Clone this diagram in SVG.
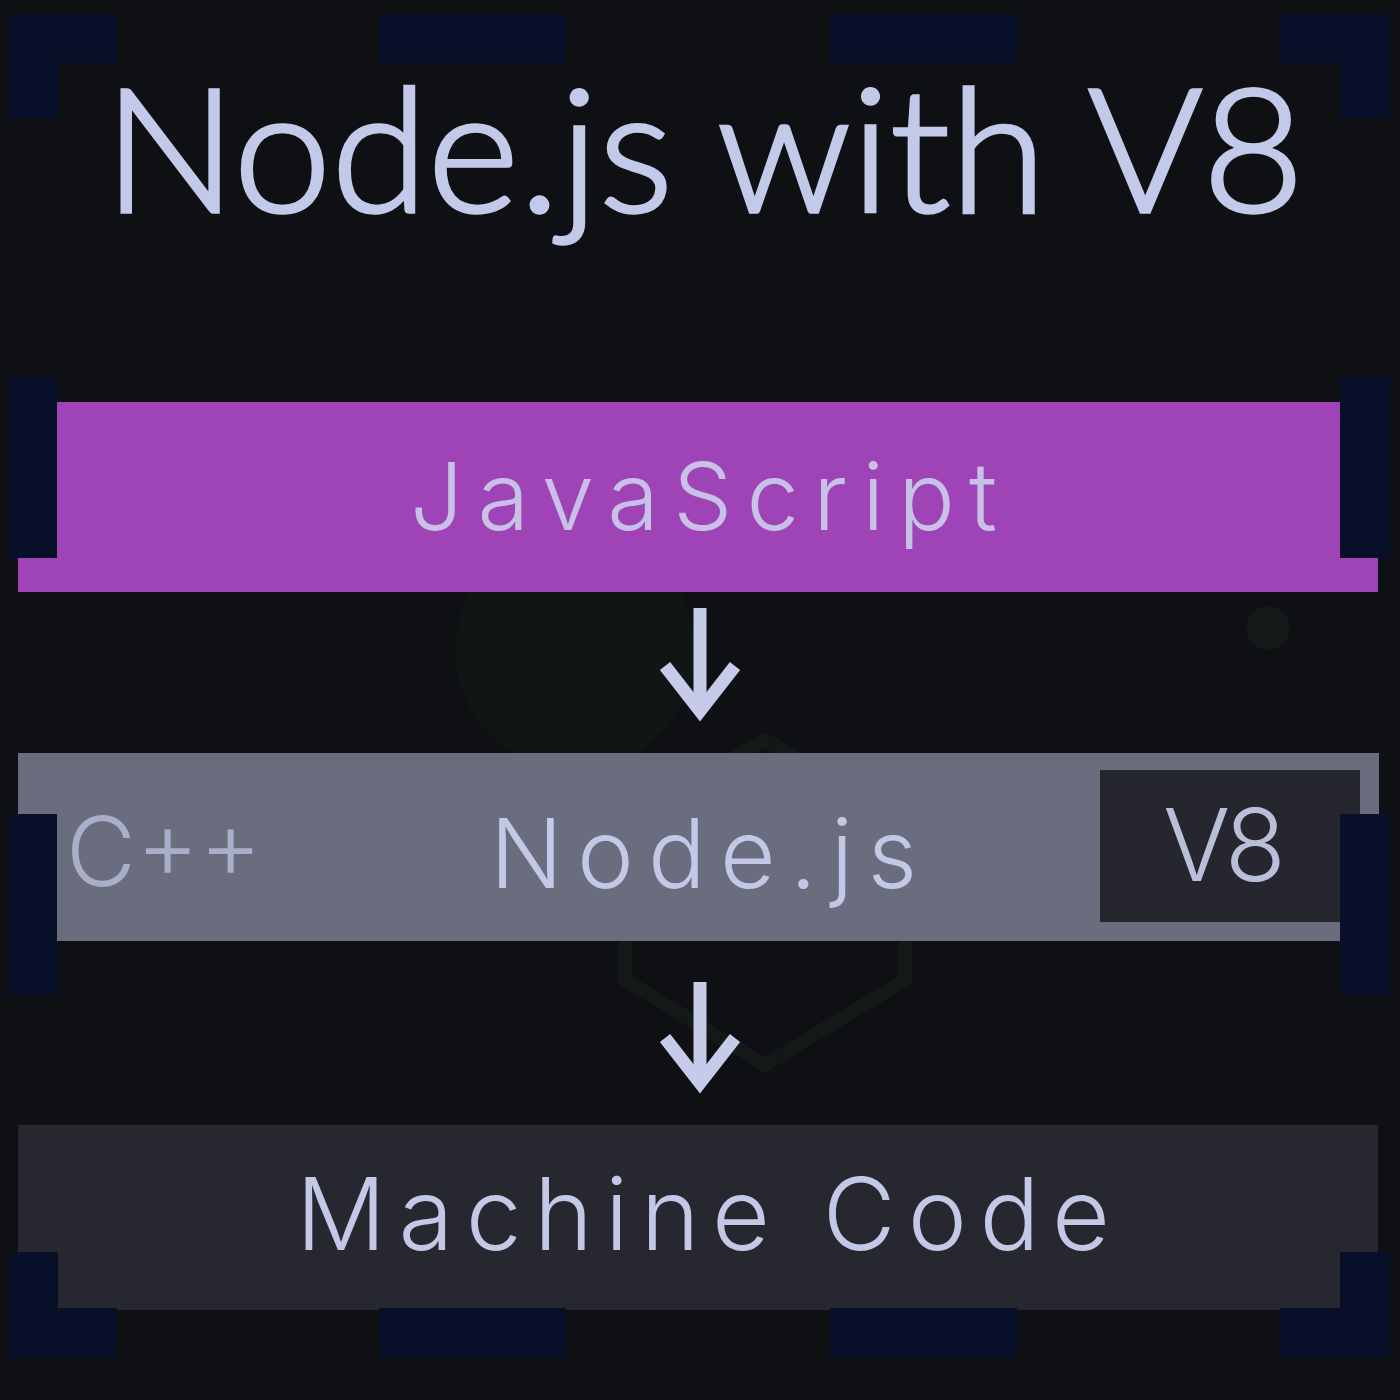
<svg xmlns="http://www.w3.org/2000/svg" width="1400" height="1400" viewBox="0 0 1400 1400">
  <defs>
    <style>
      .bracket { fill: #081029; }
      .label { font-family: Inter, "Noto Sans", "Liberation Sans", sans-serif; font-weight: 300; fill: #c3c8e6; }
      .title { font-family: Lato, "Noto Sans", "Liberation Sans", sans-serif; font-weight: 300; fill: #c3c9e8; stroke: #c3c9e8; stroke-width: 3.5; }
      .arrow { fill: none; stroke: #c5cbe8; stroke-width: 13; stroke-linejoin: miter; stroke-miterlimit: 4; }
      .deco { fill: none; stroke: #141918; stroke-width: 14; }
    </style>
  </defs>

  <!-- background -->
  <rect x="0" y="0" width="1400" height="1400" fill="#0f1013"/>
  <g id="background-decoration">
    <circle cx="575" cy="650" r="120" fill="#111514"/>
    <polygon class="deco" points="765,740 905,820 905,980 765,1065 625,980 625,820"/>
    <circle cx="1268" cy="628" r="22" fill="#151918"/>
  </g>

  <!-- title -->
  <g id="title">
    <text class="title" x="104" y="212" font-size="172" textLength="1200" lengthAdjust="spacingAndGlyphs">Node.js with V8</text>
  </g>

  <!-- nodes -->
  <g id="node-javascript">
    <rect x="18" y="402" width="1360" height="190" fill="#9e44b6"/>
    <text class="label" x="410" y="530" font-size="94" style="fill:#c9c0e8" textLength="587" lengthAdjust="spacing">JavaScript</text>
  </g>

  <g id="node-nodejs">
    <rect x="18" y="753" width="1361" height="188" fill="#696d7e"/>
    <rect x="1100" y="770" width="260" height="152" fill="#25262e"/>
    <text class="label" x="66" y="886" font-size="96" style="fill:#a9aec9" textLength="196" lengthAdjust="spacing">C++</text>
    <text class="label" x="490" y="888" font-size="96" textLength="427" lengthAdjust="spacing">Node.js</text>
    <text class="label" x="1163" y="881" font-size="100" style="fill:#b9bed9" textLength="123" lengthAdjust="spacing">V8</text>
  </g>

  <g id="node-machine-code">
    <rect x="18" y="1125" width="1360" height="185" fill="#27282f"/>
    <text class="label" x="296" y="1250" font-size="100" textLength="814" lengthAdjust="spacing">Machine Code</text>
  </g>

  <!-- connectors -->
  <g id="connectors">
    <g id="arrow-js-to-node">
      <line class="arrow" x1="700" y1="608" x2="700" y2="712"/>
      <polyline class="arrow" points="665,666 700,711 735,666"/>
    </g>
    <g id="arrow-node-to-machine" transform="translate(0,372)">
      <line class="arrow" x1="700" y1="610" x2="700" y2="712"/>
      <polyline class="arrow" points="665,666 700,711 735,666"/>
    </g>
  </g>

  <!-- corner brackets frame -->
  <g id="brackets">
    <!-- top row -->
    <rect class="bracket" x="9" y="14" width="108" height="49"/>
    <rect class="bracket" x="9" y="14" width="49" height="104"/>
    <rect class="bracket" x="379" y="14" width="187" height="49"/>
    <rect class="bracket" x="830" y="14" width="187" height="49"/>
    <rect class="bracket" x="1280" y="14" width="110" height="49"/>
    <rect class="bracket" x="1340" y="14" width="50" height="104"/>
    <!-- side bars -->
    <rect class="bracket" x="8" y="376" width="49" height="182"/>
    <rect class="bracket" x="1340" y="376" width="50" height="182"/>
    <rect class="bracket" x="8" y="814" width="49" height="181"/>
    <rect class="bracket" x="1340" y="814" width="50" height="181"/>
    <!-- bottom row -->
    <rect class="bracket" x="9" y="1252" width="49" height="105"/>
    <rect class="bracket" x="9" y="1308" width="108" height="49"/>
    <rect class="bracket" x="379" y="1308" width="187" height="49"/>
    <rect class="bracket" x="830" y="1308" width="187" height="49"/>
    <rect class="bracket" x="1340" y="1252" width="50" height="105"/>
    <rect class="bracket" x="1280" y="1308" width="110" height="49"/>
  </g>
</svg>
